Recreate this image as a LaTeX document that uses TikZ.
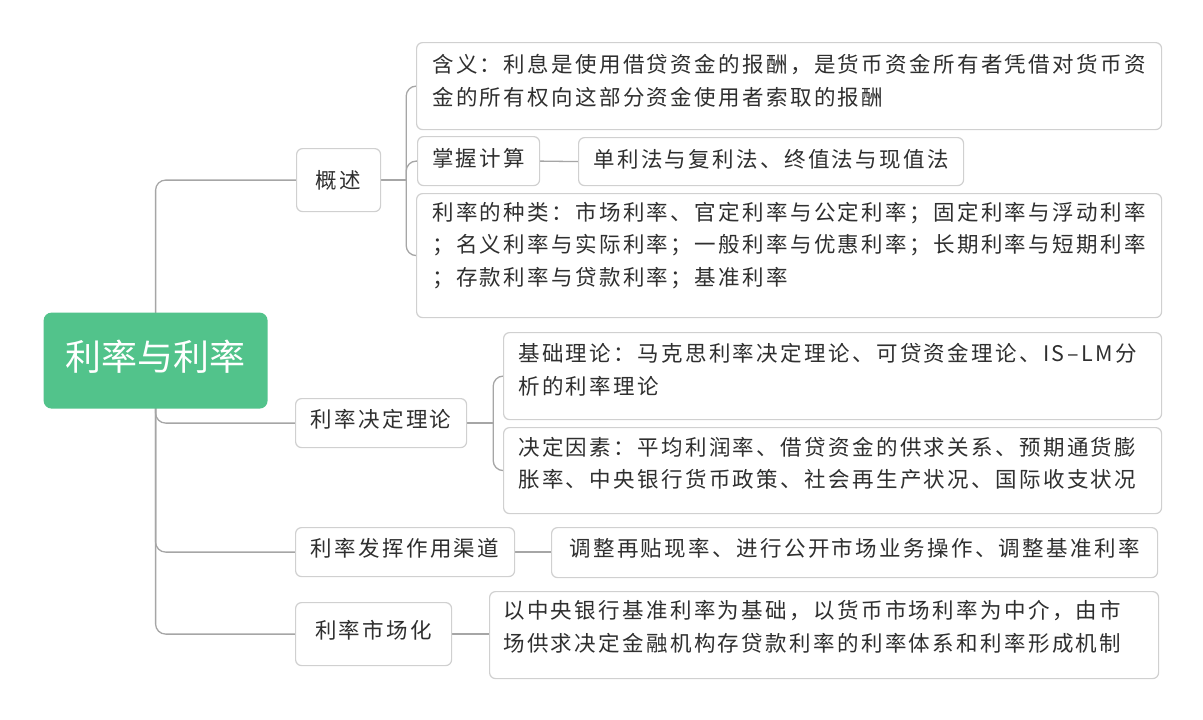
\documentclass[tikz,border=0pt]{standalone}
\usepackage{fontspec}
\newfontfamily\cjk[LetterSpace=11]{Noto Sans CJK SC}
\newfontfamily\cjkroot{Noto Sans CJK SC}
\usetikzlibrary{backgrounds}
\definecolor{rootgreen}{HTML}{52C38B}
\definecolor{boxline}{HTML}{D0D0D0}
\definecolor{connline}{HTML}{A6A6A6}
\definecolor{txtcol}{HTML}{2F2F2F}
\begin{document}
\begin{tikzpicture}[x=1pt,y=-1pt,
  box/.style={draw=boxline, line width=1.2pt, fill=white, rounded corners=6pt, anchor=north west, inner sep=0pt},
  conn/.style={draw=connline, line width=1.3pt, rounded corners=10pt},
  txtone/.style={text=txtcol, inner sep=0pt, font=\cjk\fontsize{21.5}{32.5}\selectfont},
  multi/.style={txtone, anchor=west, align=left}]
\useasboundingbox (0,0) rectangle (1203,720);
% root
\node[box, fill=rootgreen, draw=none, rounded corners=8pt, minimum width=224pt, minimum height=96pt] (root) at (43,312) {};
\node[text=white, inner sep=0pt, font=\cjkroot\fontsize{36}{40}\selectfont] (roott) at ([yshift=4pt]root.center) {利率与利率};
% level 1
\node[box, minimum width=84pt, minimum height=63pt] (gs) at (296,148) {};
\node[txtone] (gst) at (gs.center) {概述};
\node[box, minimum width=171pt, minimum height=49pt] (jd) at (295,398) {};
\node[txtone] (jdt) at ([yshift=3.5pt]jd.center) {利率决定理论};
\node[box, minimum width=219pt, minimum height=49pt] (fh) at (295,527) {};
\node[txtone] (fht) at ([yshift=3.5pt]fh.center) {利率发挥作用渠道};
\node[box, minimum width=156pt, minimum height=63pt] (sc) at (295,602) {};
\node[txtone] (sct) at ([yshift=3.5pt]sc.center) {利率市场化};
% level 2
\node[box, minimum width=745pt, minimum height=87pt] (hy) at (416,42) {};
\node[multi] (hyt) at ([xshift=16pt,yshift=5.5pt]hy.west) {含义：利息是使用借贷资金的报酬，是货币资金所有者凭借对货币资\\金的所有权向这部分资金使用者索取的报酬};
\node[box, minimum width=122pt, minimum height=49pt] (zw) at (417,136) {};
\node[txtone] (zwt) at ([yshift=2.5pt]zw.center) {掌握计算};
\node[box, minimum width=385pt, minimum height=48pt] (dl) at (578,137) {};
\node[txtone] (dlt) at ([yshift=2.5pt]dl.center) {单利法与复利法、终值法与现值法};
\node[box, minimum width=745pt, minimum height=124pt] (zl) at (416,193) {};
\node[multi] (zlt) at ([xshift=16pt,yshift=10pt]zl.west) {利率的种类：市场利率、官定利率与公定利率；固定利率与浮动利率\\；名义利率与实际利率；一般利率与优惠利率；长期利率与短期利率\\；存款利率与贷款利率；基准利率};
\node[box, minimum width=658pt, minimum height=87pt] (jc) at (503,332) {};
\node[multi] (jct) at ([xshift=15pt,yshift=6.5pt]jc.west) {基础理论：马克思利率决定理论、可贷资金理论、IS–LM分\\析的利率理论};
\node[box, minimum width=658pt, minimum height=86pt] (ys) at (503,427) {};
\node[multi] (yst) at ([xshift=15pt,yshift=7.5pt]ys.west) {决定因素：平均利润率、借贷资金的供求关系、预期通货膨\\胀率、中央银行货币政策、社会再生产状况、国际收支状况};
\node[box, minimum width=606pt, minimum height=50pt] (tz) at (551,527) {};
\node[txtone] (tzt) at ([yshift=4pt]tz.center) {调整再贴现率、进行公开市场业务操作、调整基准利率};
\node[box, minimum width=669pt, minimum height=87pt] (yz) at (489,591) {};
\node[multi] (yzt) at ([xshift=14pt,yshift=8.5pt]yz.west) {以中央银行基准利率为基础，以货币市场利率为中介，由市\\场供求决定金融机构存贷款利率的利率体系和利率形成机制};
% connectors
\coordinate (t1) at ([xshift=25pt]gs.east);
\coordinate (t2) at ([xshift=26pt]jd.east);
\begin{scope}[on background layer]
\fill[white] (0,0) rectangle (1203,720);
\draw[conn] (root.center) |- (gs.west);
\draw[conn] (root.center) |- (jd.west);
\draw[conn] (root.center) |- (fh.west);
\draw[conn] (root.center) |- (sc.west);
\draw[conn] (gs.east) -- (t1);
\draw[conn] (t1) |- (hy.west);
\draw[conn] (t1) |- (zw.west);
\draw[conn] (t1) |- (zl.west);
\draw[conn] (zw.east) -- (dl.west);
\draw[conn] (jd.east) -- (t2);
\draw[conn] (t2) |- (jc.west);
\draw[conn] (t2) |- (ys.west);
\draw[conn] (fh.east) -- (fh.east -| tz.west);
\draw[conn] (sc.east) -- (sc.east -| yz.west);
\end{scope}
\end{tikzpicture}
\end{document}
